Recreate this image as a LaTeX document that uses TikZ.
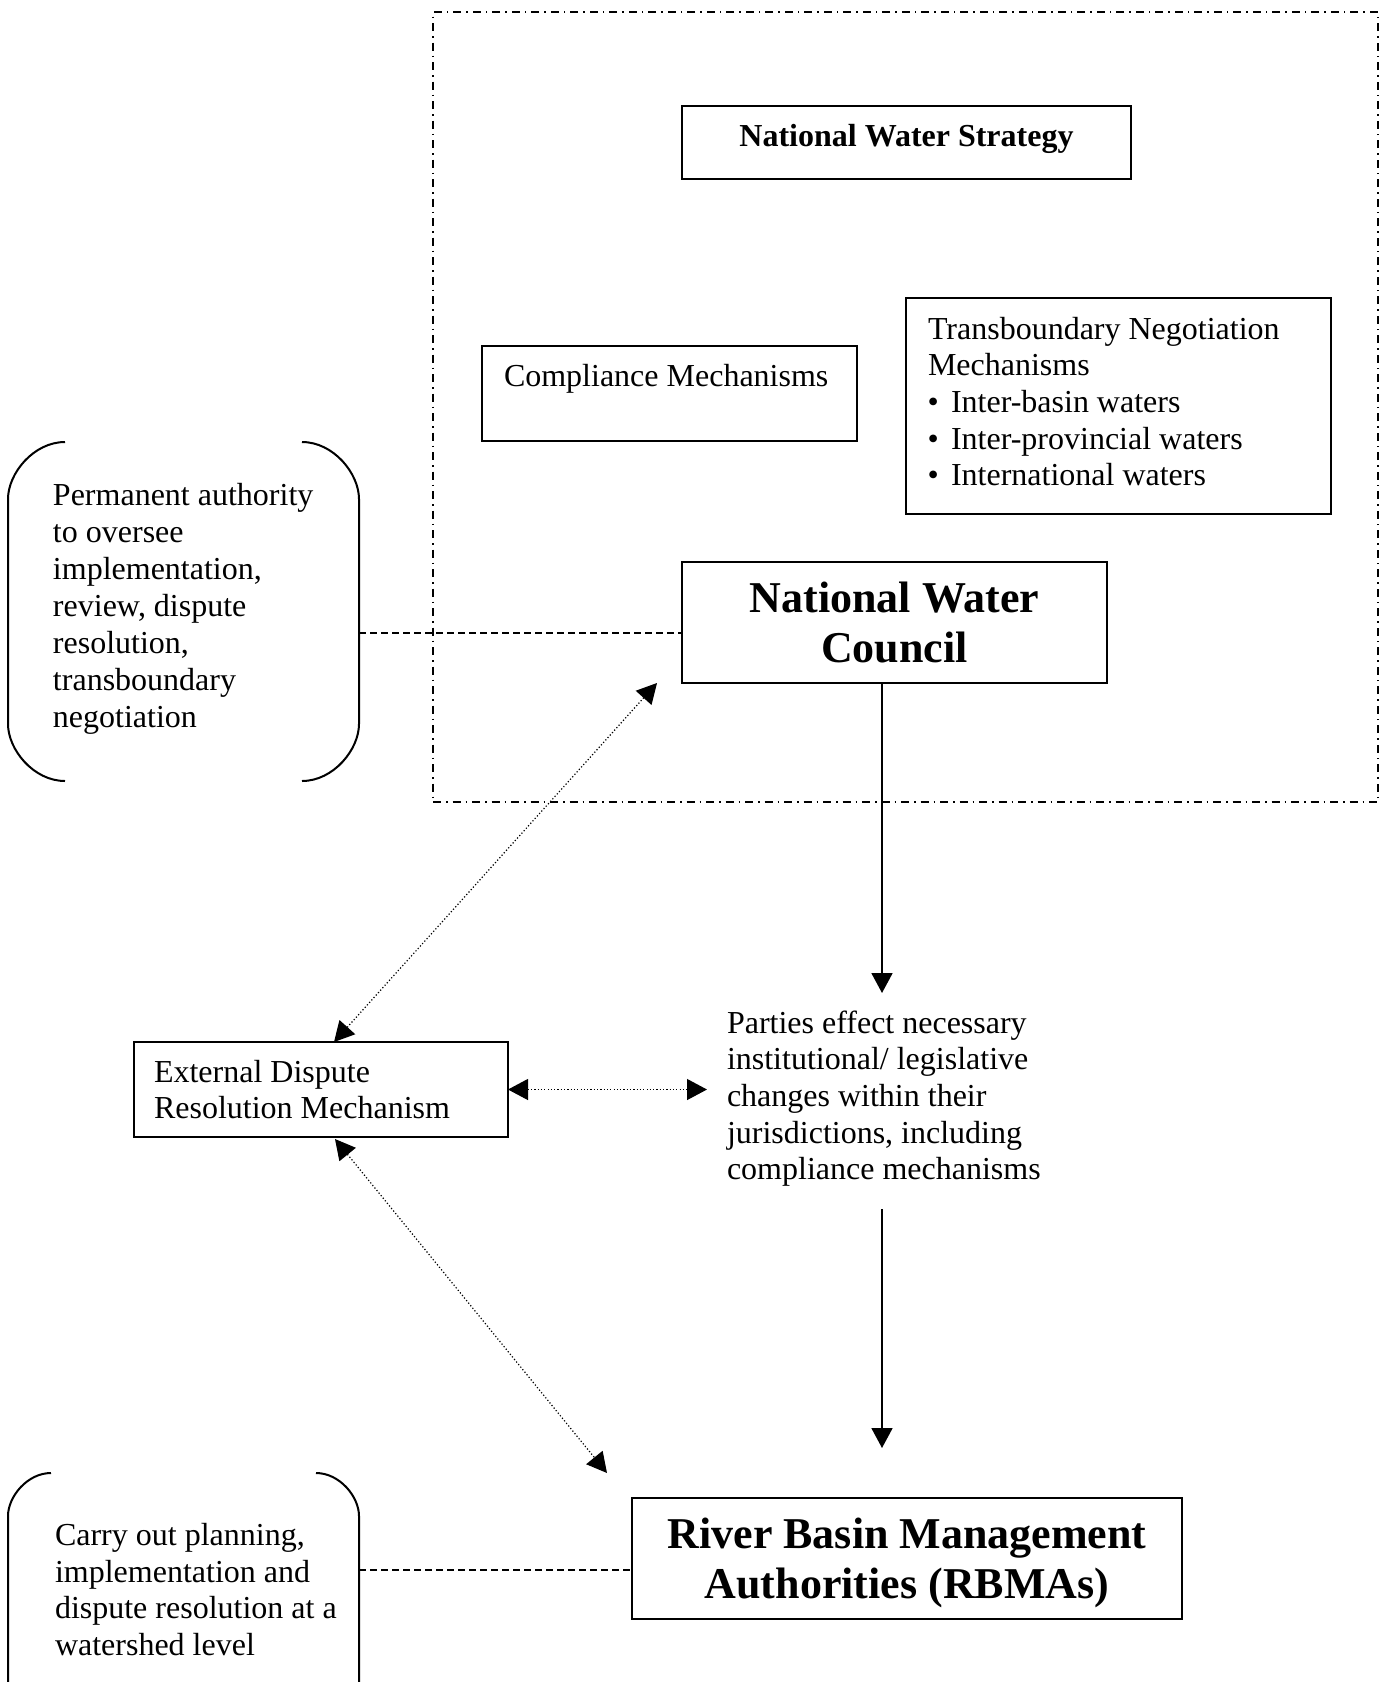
\documentclass[tikz,border=0pt]{standalone}
\usepackage{fontspec}
\setmainfont{Liberation Serif}
\usetikzlibrary{arrows.meta,fit}
\newcommand{\mlines}[1]{\begin{tabular}[t]{@{}l@{}}#1\end{tabular}}
\newcommand{\clines}[1]{\begin{tabular}[t]{@{}c@{}}#1\end{tabular}}
\newcommand{\bul}{\makebox[11.5pt][l]{\hspace{-0.2pt}•}}
\begin{document}
\begin{tikzpicture}[x=0.5pt,y=-0.5pt,
  box/.style={draw, line width=1pt, inner sep=0pt, outer sep=0pt},
  frame/.style={draw, line width=0.75pt, inner sep=0pt, outer sep=0pt,
    dash pattern=on 4pt off 2.5pt on 0.75pt off 2.5pt},
  txt/.style={inner sep=0pt, outer sep=0pt, font=\fontsize{16}{18.35}\selectfont},
  txta/.style={inner sep=0pt, outer sep=0pt, font=\fontsize{16}{18.5}\selectfont},
  txtb/.style={inner sep=0pt, outer sep=0pt, font=\fontsize{16}{18.3}\selectfont},
  bigtxt/.style={inner sep=0pt, outer sep=0pt, font=\bfseries\fontsize{22}{25.3}\selectfont},
  bracket/.style={draw, line width=1pt},
  link/.style={draw, line width=0.75pt, dash pattern=on 3.5pt off 2pt},
  solidarrow/.style={draw, line width=0.9pt, -{Triangle[length=10pt,width=10.5pt]}},
  dotarrow/.style={draw, line width=0.6pt, dash pattern=on 0.6pt off 1.05pt,
    {Triangle[length=10pt,width=10.5pt]}-{Triangle[length=10pt,width=10.5pt]}}
]
\useasboundingbox (0,0) rectangle (1380,1682);

% dash-dot region
\node[frame, fit={(433,12) (1378,802)}] (region) {};

% boxes
\node[box, fit={(682,106) (1131,179)}] (nws) {};
\node[box, fit={(482,346) (857,441)}] (comp) {};
\node[box, fit={(906,298) (1331,514)}] (trans) {};
\node[box, fit={(682,562) (1107,683)}] (nwc) {};
\node[box, fit={(134,1042) (508,1137)}] (edrm) {};
\node[box, fit={(632,1498) (1182,1619)}] (rbma) {};

% texts
\node[txt, font=\bfseries\fontsize{16}{18.35}\selectfont, anchor=base] (nwstxt) at (906.5,146) {National Water Strategy};
\node[txt, anchor=base west] (comptxt) at (504,386) {Compliance Mechanisms};
\node[txt, anchor=base west] (transtxt) at (928,339) {\mlines{Transboundary Negotiation\\ Mechanisms\\ \bul Inter-basin waters\\ \bul Inter-provincial waters\\ \bul International waters}};
\node[bigtxt, anchor=base] (nwctxt) at (894.5,612) {\clines{National Water\\ Council}};
\node[txta, anchor=base west] (b1txt) at (53,505.5) {\mlines{Permanent authority\\ to oversee\\ implementation,\\ review, dispute\\ resolution,\\ transboundary\\ negotiation}};
\node[txt, anchor=base west] (edrmtxt) at (154,1082) {\mlines{External Dispute\\ Resolution Mechanism}};
\node[txt, anchor=base west] (parties) at (727,1033) {\mlines{Parties effect necessary\\ institutional/ legislative\\ changes within their\\ jurisdictions, including\\ compliance mechanisms}};
\node[txtb, anchor=base west] (b2txt) at (55,1545.5) {\mlines{Carry out planning,\\ implementation and\\ dispute resolution at a\\ watershed level}};
\node[bigtxt, anchor=base] (rbmatxt) at (907,1548) {\clines{River Basin Management\\ Authorities (RBMAs)}};

% brackets
\path[bracket] (65,442) .. controls (33.5,442) and (8,473.5) .. (8,499) -- (8,724) .. controls (8,749.5) and (33.5,781) .. (65,781);
\path[bracket] (302,442) .. controls (333.5,442) and (359,473.5) .. (359,499) -- (359,724) .. controls (359,749.5) and (333.5,781) .. (302,781);
\path[bracket] (51,1473) .. controls (27.3,1473) and (8,1496.7) .. (8,1516) -- (8,1682);
\path[bracket] (316,1473) .. controls (339.7,1473) and (359,1496.7) .. (359,1516) -- (359,1682);

% coordinates
\coordinate (b1r) at (359,633);
\coordinate (b2r) at (359,1570);
\coordinate (dx) at (882,0);
\coordinate (a1end) at (882,993);
\coordinate (a2start) at (882,1209);
\coordinate (a2end) at (882,1448);
\coordinate (hend) at (707,1089.5);

% dashed links
\path[link] (b1r) -- (b1r -| nwc.west);
\path[link] (b2r) -- (b2r -| rbma.west);

% solid arrows
\path[solidarrow] (nwc.south -| dx) -- (a1end);
\path[solidarrow] (a2start) -- (a2end);

% dotted double arrows
\path[dotarrow] ([xshift=6.5pt]edrm.north) -- ([xshift=-12.5pt]nwc.south west);
\path[dotarrow] (edrm.east) -- (hend);
\path[dotarrow] ([xshift=7pt,yshift=-1pt]edrm.south) -- ([xshift=-12.5pt,yshift=12.5pt]rbma.north west);
\end{tikzpicture}
\end{document}
